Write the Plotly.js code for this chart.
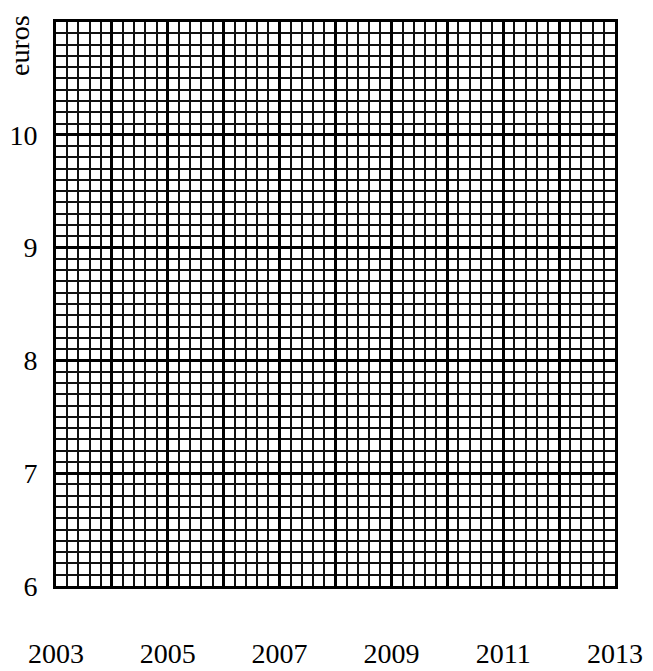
<!DOCTYPE html>
<html>
<head>
<meta charset="utf-8">
<script src="https://cdn.plot.ly/plotly-3.0.1.min.js"></script>
<style>html,body{margin:0;padding:0;background:#fff;}#chart{width:653px;height:671px;}</style>
</head>
<body>
<div id="chart"></div>
<script>
// Axis definitions (blank graph paper)
const yearTicks = [2003, 2004, 2005, 2006, 2007, 2008, 2009, 2010, 2011, 2012, 2013];
const yearLabels = ['2003', '', '2005', '', '2007', '', '2009', '', '2011', '', '2013'];
const euroTicks = [6, 7, 8, 9, 10];
const euroLabels = ['6', '7', '8', '9', '10'];
const xRange = [2003, 2013];
const yRange = [6, 11];
const yTitle = 'euros';

const font = {family: 'Liberation Serif, Times New Roman, serif', size: 28, color: '#000'};

const data = [{x: [], y: [], type: 'scatter', mode: 'lines', showlegend: false}];

const layout = {
  width: 653, height: 671,
  margin: {l: 56, r: 38, t: 22, b: 85},
  paper_bgcolor: '#fff', plot_bgcolor: '#fff',
  showlegend: false,
  font: font,
  xaxis: {
    range: xRange, tickmode: 'array', tickvals: yearTicks, ticktext: yearLabels,
    showgrid: true, gridcolor: '#000', gridwidth: 3,
    minor: {dtick: 0.2, showgrid: true, gridcolor: '#111', gridwidth: 2, ticks: ''},
    showline: true, linecolor: '#000', linewidth: 3, mirror: true,
    ticks: '', ticklabelstandoff: 40, zeroline: false, tickfont: font
  },
  yaxis: {
    range: yRange, tickmode: 'array', tickvals: euroTicks, ticktext: euroLabels,
    showgrid: true, gridcolor: '#000', gridwidth: 3,
    minor: {dtick: 0.1, showgrid: true, gridcolor: '#111', gridwidth: 2, ticks: ''},
    showline: true, linecolor: '#000', linewidth: 3, mirror: true,
    ticks: '', ticklabelstandoff: 10, zeroline: false, tickfont: font
  },
  annotations: [{
    text: yTitle, xref: 'paper', yref: 'paper',
    x: (20 - 56) / 559, y: (586 - 46) / 564,
    textangle: -90, showarrow: false, font: font,
    xanchor: 'center', yanchor: 'middle'
  }]
};

Plotly.newPlot('chart', data, layout, {displayModeBar: false, staticPlot: true});
</script>
</body>
</html>
